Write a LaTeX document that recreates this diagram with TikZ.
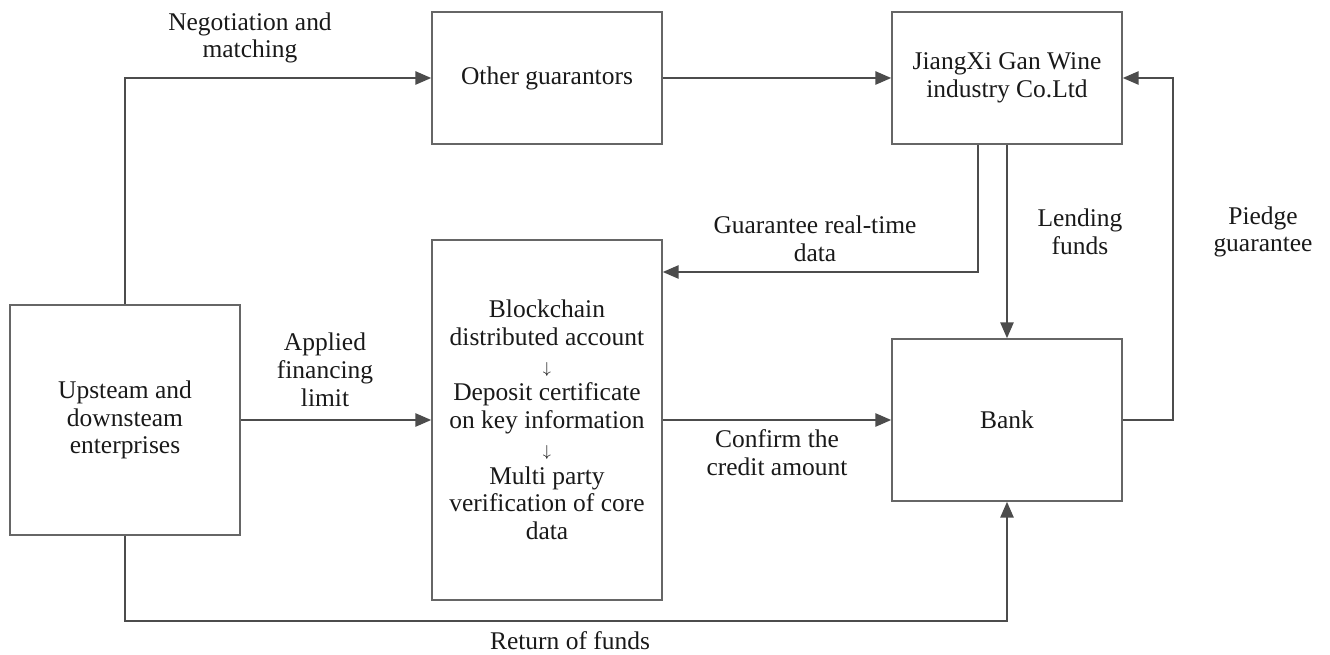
\documentclass[tikz,border=0pt]{standalone}
\usepackage{fontspec}
\setmainfont{Liberation Serif}
\usetikzlibrary{arrows.meta}
\begin{document}
\begin{tikzpicture}[x=0.02cm,y=-0.02cm,font=\fontsize{14.5}{15.8}\selectfont,
	box/.style={draw=black!60,line width=0.9pt,align=center,inner sep=0pt,text=black!90},
	link/.style={draw=black!70,line width=1.1pt,-{Triangle[length=9pt,width=7.5pt]}},
	lbl/.style={align=center,text=black!90}]
	\useasboundingbox (0,0) rectangle (1330,655);

	\node[box,minimum width=4.6cm,minimum height=4.6cm] (up) at (125,420) {Upsteam and\\downsteam\\enterprises};
	\node[box,minimum width=4.6cm,minimum height=7.2cm] (mid) at (547,420) {Blockchain\\distributed account\\{\small$\downarrow$}\\Deposit certificate\\on key information\\{\small$\downarrow$}\\Multi party\\verification of core\\data};
	\node[box,minimum width=4.6cm,minimum height=2.64cm] (oth) at (547,78) {Other guarantors};
	\node[box,minimum width=4.6cm,minimum height=2.64cm] (jx) at (1007,78) {JiangXi Gan Wine\\industry Co.Ltd};
	\node[box,minimum width=4.6cm,minimum height=3.24cm] (bank) at (1007,420) {Bank};

	\coordinate (gd) at (978,272);
	\coordinate (pg) at (1173,78);
	\coordinate (rf) at (125,621);

	\draw[link] (up.north) |- (oth.west);
	\draw[link] (oth) -- (jx);
	\draw[link] (jx.south -| gd) -- (gd) -- (gd -| mid.east);
	\draw[link] (jx.south) -- (bank.north);
	\draw[link] (bank.east) -| (pg) -- (jx.east);
	\draw[link] (up.east) -- (mid.west);
	\draw[link] (mid.east) -- (bank.west);
	\draw[link] (up.south) -- (rf) -| (bank.south);

	\node[lbl] (neg) at (250,38) {Negotiation and\\matching};
	\node[lbl] (grt) at (815,239) {Guarantee real-time\\data};
	\node[lbl] (lend) at (1080,232) {Lending\\funds};
	\node[lbl] (pled) at (1263,232) {Piedge\\guarantee};
	\node[lbl] (appl) at (325,370) {Applied\\financing\\limit};
	\node[lbl] (conf) at (777,453) {Confirm the\\credit amount};
	\node[lbl] (ret) at (570,641) {Return of funds};
\end{tikzpicture}
\end{document}
